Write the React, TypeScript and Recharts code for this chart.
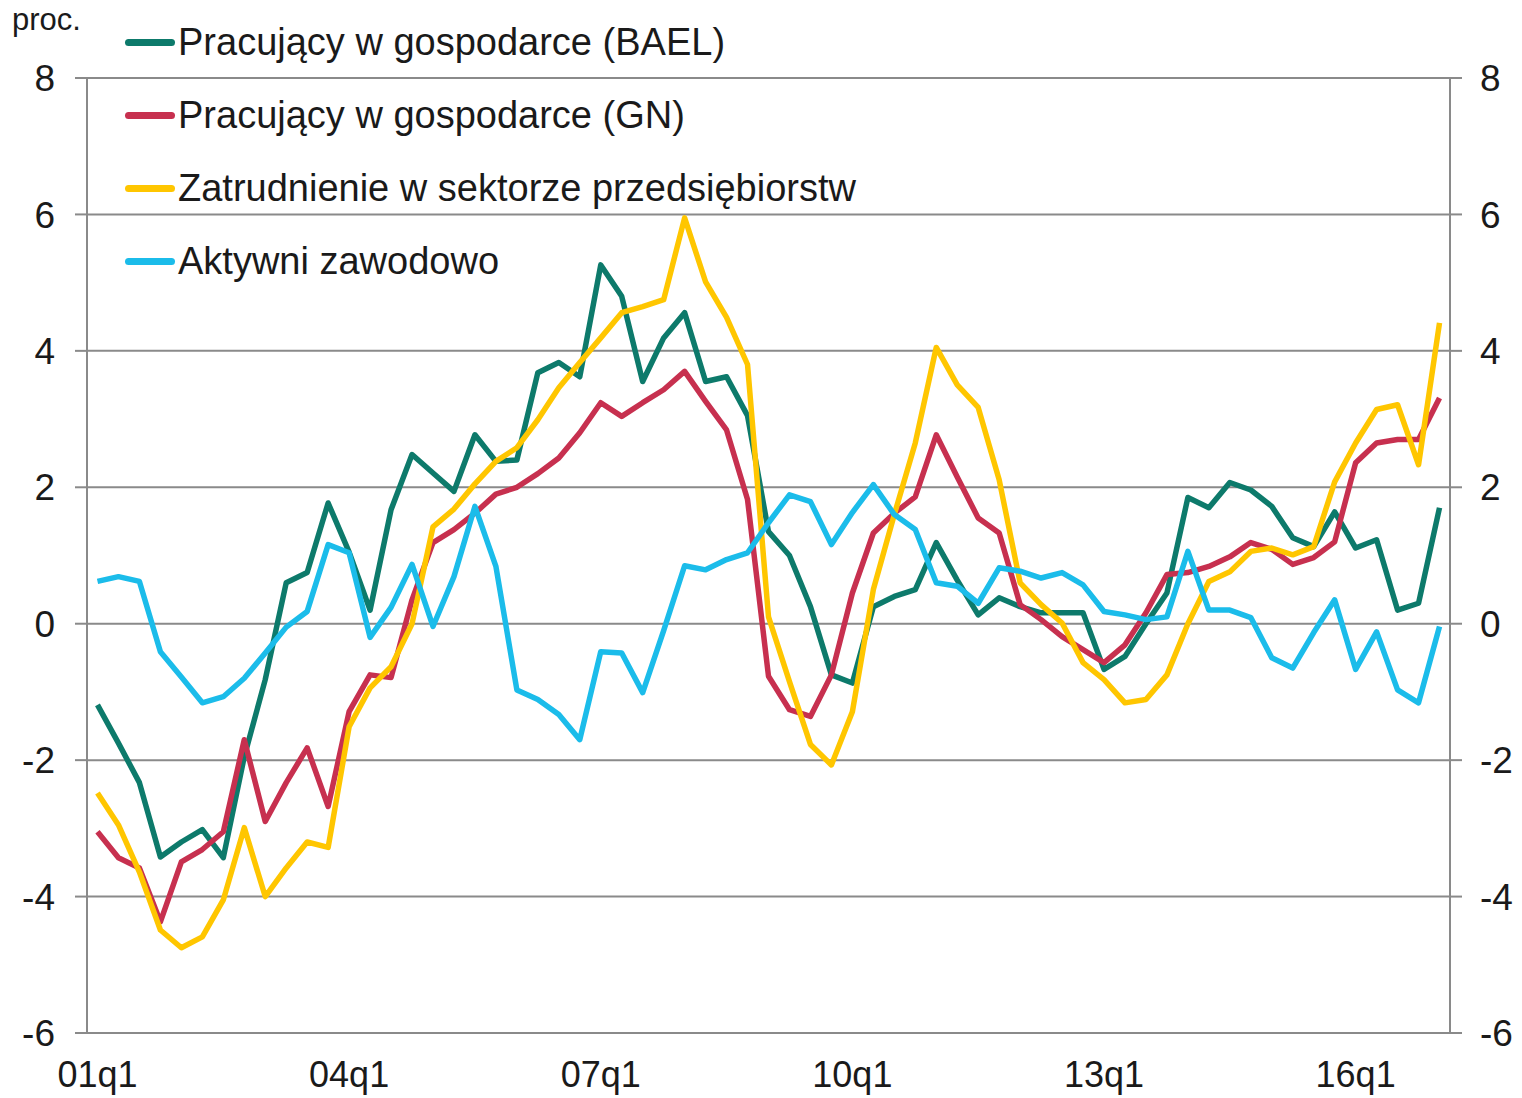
import React from 'react';
import { LineChart, Line, XAxis, YAxis, CartesianGrid } from 'recharts';

const quarters = [
  '01q1', '01q2', '01q3', '01q4', '02q1', '02q2', '02q3', '02q4',
  '03q1', '03q2', '03q3', '03q4', '04q1', '04q2', '04q3', '04q4',
  '05q1', '05q2', '05q3', '05q4', '06q1', '06q2', '06q3', '06q4',
  '07q1', '07q2', '07q3', '07q4', '08q1', '08q2', '08q3', '08q4',
  '09q1', '09q2', '09q3', '09q4', '10q1', '10q2', '10q3', '10q4',
  '11q1', '11q2', '11q3', '11q4', '12q1', '12q2', '12q3', '12q4',
  '13q1', '13q2', '13q3', '13q4', '14q1', '14q2', '14q3', '14q4',
  '15q1', '15q2', '15q3', '15q4', '16q1', '16q2', '16q3', '16q4',
  '17q1',
];

const bael = [
  -1.19, -1.75, -2.33, -3.42, -3.2, -3.02, -3.43, -1.95,
  -0.82, 0.6, 0.75, 1.77, 1.05, 0.2, 1.67, 2.48,
  2.21, 1.94, 2.77, 2.38, 2.4, 3.68, 3.83, 3.62,
  5.26, 4.8, 3.55, 4.19, 4.56, 3.55, 3.62, 3.05,
  1.35, 1.0, 0.25, -0.75, -0.87, 0.25, 0.4, 0.5,
  1.19, 0.64, 0.13, 0.38, 0.25, 0.16, 0.16, 0.16,
  -0.67, -0.48, 0.0, 0.45, 1.85, 1.7, 2.07, 1.96,
  1.72, 1.26, 1.13, 1.64, 1.11, 1.23, 0.2, 0.3,
  1.7,
];

const gn = [
  -3.05, -3.43, -3.58, -4.37, -3.49, -3.31, -3.05, -1.7,
  -2.9, -2.33, -1.82, -2.68, -1.29, -0.75, -0.79, 0.35,
  1.19, 1.38, 1.62, 1.9, 2.0, 2.2, 2.43, 2.8,
  3.24, 3.04, 3.24, 3.43, 3.7, 3.26, 2.84, 1.82,
  -0.77, -1.26, -1.36, -0.75, 0.45, 1.33, 1.62, 1.86,
  2.77, 2.15, 1.55, 1.33, 0.28, 0.06, -0.19, -0.38,
  -0.57, -0.31, 0.16, 0.72, 0.75, 0.84, 0.98, 1.19,
  1.09, 0.87, 0.97, 1.2, 2.36, 2.65, 2.7, 2.7,
  3.31,
];

const przedsiebiorstwa = [
  -2.48, -2.95, -3.64, -4.49, -4.75, -4.59, -4.05, -2.99,
  -4.0, -3.58, -3.2, -3.28, -1.51, -0.94, -0.63, 0.0,
  1.42, 1.68, 2.05, 2.38, 2.58, 2.99, 3.46, 3.83,
  4.19, 4.56, 4.65, 4.75, 5.95, 5.01, 4.49, 3.8,
  0.1, -0.85, -1.77, -2.07, -1.29, 0.5, 1.6, 2.65,
  4.05, 3.5, 3.17, 2.11, 0.6, 0.28, 0.01, -0.57,
  -0.82, -1.16, -1.11, -0.75, 0.0, 0.62, 0.76, 1.06,
  1.11, 1.01, 1.13, 2.08, 2.65, 3.14, 3.21, 2.33,
  4.41,
];

const aktywni = [
  0.62, 0.69, 0.62, -0.41, -0.78, -1.16, -1.07, -0.8,
  -0.43, -0.05, 0.18, 1.16, 1.04, -0.2, 0.24, 0.87,
  -0.04, 0.69, 1.72, 0.84, -0.97, -1.11, -1.33, -1.7,
  -0.41, -0.43, -1.01, -0.1, 0.85, 0.79, 0.94, 1.04,
  1.48, 1.89, 1.79, 1.16, 1.63, 2.04, 1.6, 1.38,
  0.6, 0.55, 0.3, 0.82, 0.77, 0.67, 0.75, 0.57,
  0.18, 0.13, 0.06, 0.1, 1.06, 0.2, 0.2, 0.09,
  -0.5, -0.65, -0.13, 0.35, -0.67, -0.12, -0.97, -1.16,
  -0.04,
];

const yTicks = [-6, -4, -2, 0, 2, 4, 6, 8];

const series = [
  { key: 'bael', name: 'Pracujący w gospodarce (BAEL)', color: '#0D7A6B', values: bael },
  { key: 'gn', name: 'Pracujący w gospodarce (GN)', color: '#C7304F', values: gn },
  { key: 'przeds', name: 'Zatrudnienie w sektorze przedsiębiorstw', color: '#FFC600', values: przedsiebiorstwa },
  { key: 'aktywni', name: 'Aktywni zawodowo', color: '#1BBCEA', values: aktywni },
];

const data = quarters.map((q, i) => {
  const row: Record<string, string | number> = { q };
  series.forEach((s) => {
    row[s.key] = s.values[i];
  });
  return row;
});

const FONT = '"Liberation Sans", Arial, sans-serif';
const GRID = '#8a8a8a';
const TEXT = '#1a1a1a';

export default function App() {
  return (
    <div style={{ position: 'relative', width: 1514, height: 1090, fontFamily: FONT }}>
      <LineChart
        width={1514}
        height={1090}
        data={data}
        margin={{ top: 70, right: 0, bottom: 0, left: 0 }}
      >
        <CartesianGrid vertical={false} horizontal stroke={GRID} strokeWidth={2} />
        <XAxis
          dataKey="q"
          scale="band"
          interval={11}
          axisLine={false}
          tickLine={false}
          tickSize={6}
          tickMargin={22}
          height={65}
          tick={{ fontSize: 36, fill: TEXT, fontFamily: FONT }}
        />
        <YAxis
          domain={[-6, 8]}
          ticks={yTicks}
          width={79}
          tickSize={12}
          tickMargin={20}
          axisLine={{ stroke: GRID, strokeWidth: 2 }}
          tickLine={{ stroke: GRID, strokeWidth: 2 }}
          tick={{ fontSize: 37, fill: TEXT, fontFamily: FONT }}
          allowDataOverflow
        />
        <YAxis
          yAxisId="right"
          orientation="right"
          domain={[-6, 8]}
          ticks={yTicks}
          width={72}
          tickSize={12}
          tickMargin={18}
          axisLine={{ stroke: GRID, strokeWidth: 2 }}
          tickLine={{ stroke: GRID, strokeWidth: 2 }}
          tick={{ fontSize: 37, fill: TEXT, fontFamily: FONT, textAnchor: 'start' }}
          allowDataOverflow
        />
        {series.map((s) => (
          <Line
            key={s.key}
            type="linear"
            dataKey={s.key}
            name={s.name}
            stroke={s.color}
            strokeWidth={5.5}
            dot={false}
            activeDot={false}
            isAnimationActive={false}
            strokeLinejoin="round"
          />
        ))}
      </LineChart>
      <div
        style={{
          position: 'absolute',
          left: 4,
          top: -4,
          fontSize: 31,
          lineHeight: '32px',
          color: TEXT,
        }}
      >
        proc.
      </div>
      <div
        style={{
          position: 'absolute',
          left: 117,
          top: -2,
          fontSize: 38,
          color: TEXT,
        }}
      >
        {series.map((s) => (
          <div
            key={s.key}
            style={{ display: 'flex', alignItems: 'center', height: 73, whiteSpace: 'nowrap' }}
          >
            <span
              style={{
                display: 'inline-block',
                width: 50,
                height: 7,
                borderRadius: 4,
                background: s.color,
                marginRight: 3,
              }}
            />
            <span>{s.name}</span>
          </div>
        ))}
      </div>
    </div>
  );
}
